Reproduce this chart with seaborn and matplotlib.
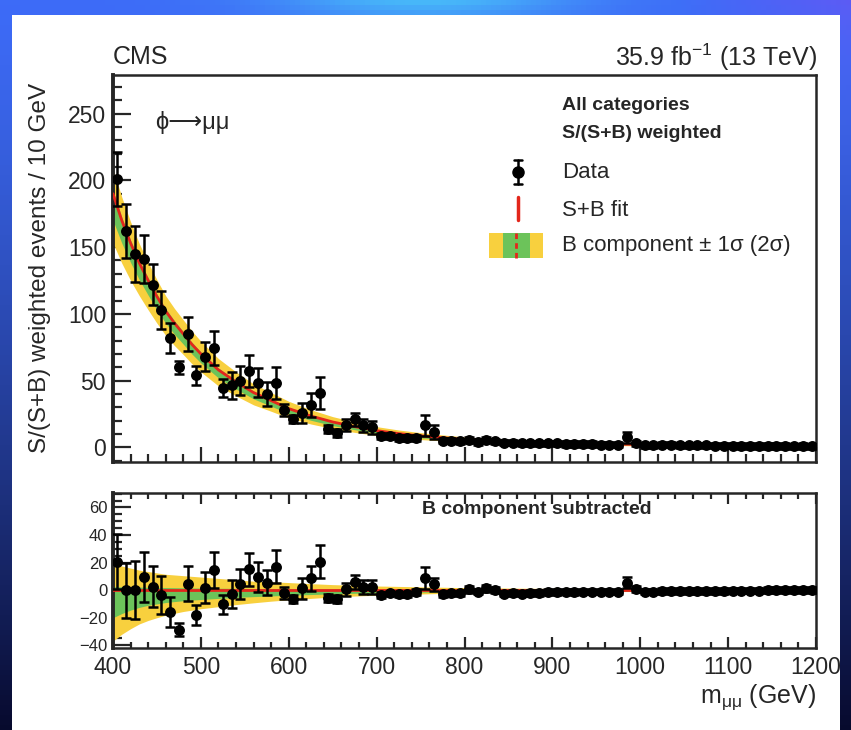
import numpy as np
import pandas as pd
import matplotlib
matplotlib.use('Agg')
import matplotlib.pyplot as plt
import matplotlib.ticker as mticker
from matplotlib.patches import Rectangle
import seaborn as sns

# ========== data ==========
# bin centres, 10 GeV bins from 400 to 1200
mass = np.arange(405, 1200, 10)

# S/(S+B) weighted events per bin (upper panel)
events = [201, 162, 145, 141, 122, 103, 82, 60, 85, 54,
          68, 74.5, 44.5, 46.5, 50, 57, 48.5, 40, 48.5, 28,
          21, 26, 31.5, 41, 14, 11, 16.5, 21, 16.5, 15,
          8.5, 8.5, 7, 7, 7, 16.5, 11.5, 5, 5, 4.5,
          5.5, 4, 5.5, 4.5, 3.5, 3.5, 3, 3, 3, 3,
          3, 2.5, 2.5, 2.5, 2.5, 2, 2, 2, 7.5, 3,
          1.5, 1.5, 2, 2, 1.5, 1.5, 1.5, 1.5, 1.2, 1.2,
          1.2, 1, 1, 1, 1, 1, 1, 0.8, 1, 0.8]

# B component subtracted (lower panel)
residual = [20.6, 0, 0, 9.7, 2.4, -3.6, -15.8, -28.6, 4.8, -18,
            1.9, 14.5, -10.4, -2.9, 4.4, 15, 9.7, 5.3, 17, -1.9,
            -6.5, 1.2, 8.5, 20.6, -5.6, -6.5, 0.5, 5.8, 2.4, 2.4,
            -3.6, -2.4, -3, -3, -1.2, 9, 4.1, -3, -2.4, -2.4,
            0.5, -1, 1.5, 0, -2.5, -2, -2.5, -2, -2, -1.5,
            -1.5, -1, -1.5, -1, -1, -1, -1, -1, 5.5, 1,
            -1, -1, -0.5, -0.5, -0.5, -0.5, -0.5, -0.5, -0.5, -0.5,
            -0.3, -0.3, -0.3, -0.3, 0, 0, 0, 0, 0, 0]

# statistical error per bin (same for both panels)
err = [20, 20, 21, 18, 15, 14, 11, 5, 13, 7,
       11, 13, 7, 10, 11, 12, 11, 9, 12, 4.5,
       3, 7.5, 9, 12, 3, 3, 4.5, 5, 5, 5,
       2, 2, 2, 2, 2, 8, 5, 2, 2, 2,
       2.5, 2, 2.5, 2, 2, 2, 2, 2, 2, 2,
       2, 2, 2, 2, 2, 2, 2, 2, 4, 2,
       2, 2, 2, 2, 2, 2, 2, 2, 2, 2,
       2, 2, 2, 2, 2, 2, 2, 2, 2, 2]

# background fit and its 1 sigma / 2 sigma band (offsets w.r.t. the fit)
fit_x = [400, 410, 420, 430, 440, 450, 460, 470, 480, 490, 500, 520, 540, 560, 580, 600,
         625, 650, 675, 700, 725, 750, 775, 800, 850, 900, 950, 1000, 1050, 1100, 1150, 1200]
fit_b = [190, 170, 153, 138, 125, 113, 102, 93, 85, 77, 70, 58, 49, 41, 35, 29,
         23.5, 19, 15.5, 12.5, 10.3, 8.6, 7.2, 6.0, 4.4, 3.3, 2.6, 2.1, 1.8, 1.5, 1.3, 1.1]
yel_up = [19, 17.5, 16, 14.5, 13.5, 12.5, 11.5, 11, 10.5, 10, 9.5, 8.5, 7.5, 6.5, 6, 5.5,
          4.7, 4, 3.5, 3, 2.7, 2.4, 2.1, 1.8, 1.5, 1.2, 1.1, 1, 0.9, 0.8, 0.7, 0.6]
grn_up = [2.5, 2.4, 2.3, 2.2, 2.1, 2, 1.9, 1.8, 1.7, 1.6, 1.5, 1.4, 1.3, 1.2, 1.1, 1,
          0.9, 0.8, 0.7, 0.6, 0.55, 0.5, 0.45, 0.4, 0.35, 0.3, 0.3, 0.25, 0.25, 0.2, 0.2, 0.2]
grn_dn = [-20, -17, -14.5, -12.5, -11, -10, -9, -8.3, -7.7, -7.2, -6.8, -6, -5.3, -4.7, -4.2, -3.7,
          -3.2, -2.7, -2.3, -2, -1.7, -1.5, -1.3, -1.1, -0.9, -0.7, -0.6, -0.5, -0.45, -0.4, -0.35, -0.3]
yel_dn = [-37, -32, -28, -24.5, -22, -20, -18.2, -16.8, -15.5, -14.5, -13.5, -12, -10.5, -9.2, -8, -7,
          -6, -5, -4.3, -3.7, -3.2, -2.8, -2.4, -2, -1.6, -1.3, -1.1, -1, -0.9, -0.8, -0.7, -0.6]
# S+B fit minus B component
sb_sub = [0.0] * len(fit_x)

data_df = pd.DataFrame({'mass': mass, 'events': events, 'residual': residual, 'err': err})
fit_df = pd.DataFrame({'x': fit_x, 'b': fit_b, 'sb': sb_sub})
fx = np.array(fit_x, dtype=float)
fb = np.array(fit_b, dtype=float)

# ========== style ==========
sns.set_style("ticks")
plt.rcParams['font.family'] = ['Liberation Sans', 'DejaVu Sans']
plt.rcParams['mathtext.fontset'] = 'custom'
plt.rcParams['mathtext.rm'] = 'Liberation Sans'
plt.rcParams['mathtext.it'] = 'Liberation Sans'

YELLOW = '#f8d03e'
GREEN = '#6cc35a'
RED = '#e3261b'

W, H = 851, 730
fig = plt.figure(figsize=(W / 100, H / 100), dpi=100)

# blue slide background with white panel
bg = fig.add_axes([0, 0, 1, 1], zorder=-10)
gy, gx = np.mgrid[0:1:146j, 0:1:170j]
top = np.array([0.24, 0.42, 0.97])
bot = np.array([0.03, 0.04, 0.18])
t = (gy ** 1.3)[..., None]
img = top * (1 - t) + bot * t
glow = (np.exp(-((gx - 0.5) / 0.18) ** 2) * np.exp(-gy / 0.04))[..., None]
img = img * (1 - glow) + np.array([0.28, 0.72, 0.98]) * glow
right = (np.clip((gx - 0.8) / 0.2, 0, 1) * np.exp(-gy / 0.08))[..., None]
img = img * (1 - right) + np.array([0.36, 0.36, 0.96]) * right
bg.imshow(img, aspect='auto', extent=[0, 1, 0, 1], origin='upper')
bg.add_patch(Rectangle((12 / W, 0), (840 - 12) / W, 1 - 15 / H, color='white', lw=0))
bg.set_xlim(0, 1)
bg.set_ylim(0, 1)
bg.axis('off')


def px(x0, y0, x1, y1):
    return [x0 / W, 1 - y1 / H, (x1 - x0) / W, (y1 - y0) / H]


ax = fig.add_axes(px(113, 75, 816, 462))
axr = fig.add_axes(px(113, 493, 816, 648))

# ---------- upper panel ----------
ax.fill_between(fx, fb + np.array(yel_dn), fb + np.array(yel_up), color=YELLOW, lw=0, zorder=1)
ax.fill_between(fx, fb + np.array(grn_dn), fb + np.array(grn_up), color=GREEN, lw=0, zorder=2)
sns.lineplot(data=fit_df, x='x', y='b', ax=ax, color=RED, lw=2, zorder=3)
ax.errorbar(data_df['mass'], data_df['events'], yerr=data_df['err'], fmt='none',
            ecolor='black', elinewidth=1.8, capsize=3.5, capthick=1.8, zorder=4)
sns.scatterplot(data=data_df, x='mass', y='events', ax=ax, color='black', s=62,
                edgecolor='black', linewidth=0, zorder=5)

ax.set_xlim(400, 1200)
ax.set_ylim(-11, 279)
ax.yaxis.set_major_locator(mticker.MultipleLocator(50))
ax.yaxis.set_minor_locator(mticker.MultipleLocator(10))
ax.xaxis.set_major_locator(mticker.MultipleLocator(100))
ax.xaxis.set_minor_locator(mticker.MultipleLocator(20))
ax.tick_params(axis='both', which='both', direction='in', labelsize=16.5, width=1.6, pad=5)
ax.tick_params(axis='y', which='major', length=13)
ax.tick_params(axis='y', which='minor', length=6.5)
ax.tick_params(axis='x', which='major', length=11, labelbottom=False)
ax.tick_params(axis='x', which='minor', length=5.5)
ax.set_xlabel('')
ax.set_ylabel('')
for s in ax.spines.values():
    s.set_linewidth(1.8)
ax.spines['left'].set_linewidth(2.8)

# ---------- lower panel ----------
axr.fill_between(fx, yel_dn, yel_up, color=YELLOW, lw=0, zorder=1)
axr.fill_between(fx, grn_dn, grn_up, color=GREEN, lw=0, zorder=2)
sns.lineplot(data=fit_df, x='x', y='sb', ax=axr, color=RED, lw=2, zorder=3)
axr.errorbar(data_df['mass'], data_df['residual'], yerr=data_df['err'], fmt='none',
             ecolor='black', elinewidth=1.8, capsize=3.5, capthick=1.8, zorder=4)
sns.scatterplot(data=data_df, x='mass', y='residual', ax=axr, color='black', s=62,
                edgecolor='black', linewidth=0, zorder=5)

axr.set_xlim(400, 1200)
axr.set_ylim(-42, 70.5)
axr.yaxis.set_major_locator(mticker.MultipleLocator(20))
axr.yaxis.set_minor_locator(mticker.MultipleLocator(5))
axr.xaxis.set_major_locator(mticker.MultipleLocator(100))
axr.xaxis.set_minor_locator(mticker.MultipleLocator(20))
axr.tick_params(axis='both', which='both', direction='in', width=1.6, top=True)
axr.tick_params(axis='y', which='major', length=13, labelsize=12, pad=4)
axr.tick_params(axis='y', which='minor', length=6.5)
axr.tick_params(axis='x', which='major', length=8, labelsize=16.5, pad=6)
axr.tick_params(axis='x', which='minor', length=4)
axr.set_xlabel('')
axr.set_ylabel('')
for s in axr.spines.values():
    s.set_linewidth(1.8)
axr.spines['left'].set_linewidth(2.8)

# ---------- texts ----------
def ftext(x, y, s, **kw):
    fig.text(x / W, 1 - y / H, s, **kw)

ftext(113, 57, 'CMS', fontsize=18, ha='left', va='center')
ftext(817, 57, r'35.9 fb$^{-1}$ (13 TeV)', fontsize=18, ha='right', va='center')
ftext(155, 122, 'ϕ⟶μμ', fontsize=17, ha='left', va='center',
      family=['Liberation Sans', 'DejaVu Sans'])
ftext(40, 268, 'S/(S+B) weighted events / 10 GeV', fontsize=17.5, rotation=90,
      ha='center', va='center')
ftext(816, 697, r'm$_{\mu\mu}$ (GeV)', fontsize=18, ha='right', va='center')
ftext(537, 510, 'B component subtracted', fontsize=14, fontweight='bold',
      ha='center', va='center')

# legend drawn by hand in axes fraction
def a(xp, yp):
    return ((xp - 113) / 703, (462 - yp) / 387)

tr = ax.transAxes
ax.text(*a(562, 105), 'All categories', transform=tr, fontsize=14, fontweight='bold', va='center')
ax.text(*a(562, 133), 'S/(S+B) weighted', transform=tr, fontsize=14, fontweight='bold', va='center')
ax.text(*a(562, 172), 'Data', transform=tr, fontsize=16, va='center')
ax.text(*a(562, 210), 'S+B fit', transform=tr, fontsize=16, va='center')
ax.text(*a(562, 246), 'B component ± 1σ (2σ)', transform=tr, fontsize=16, va='center')

x0, y0 = a(517.5, 160)
_, y1 = a(517.5, 184)
ax.plot([x0, x0], [y0, y1], color='black', lw=1.8, transform=tr, clip_on=False)
cw = 4 / 703
for yy in (y0, y1):
    ax.plot([x0 - cw, x0 + cw], [yy, yy], color='black', lw=1.8, transform=tr, clip_on=False)
ax.plot([x0], [a(517.5, 172)[1]], 'o', color='black', ms=8, transform=tr, clip_on=False)

_, r0 = a(517.5, 197)
_, r1 = a(517.5, 220)
ax.plot([x0, x0], [r0, r1], color=RED, lw=2.5, transform=tr, clip_on=False)

bx0, by0 = a(489, 258)
bx1, by1 = a(543, 233)
ax.add_patch(Rectangle((bx0, by0), bx1 - bx0, by1 - by0, transform=tr, color=YELLOW, lw=0))
gx0, _ = a(503, 0)
gx1, _ = a(530, 0)
ax.add_patch(Rectangle((gx0, by0), gx1 - gx0, by1 - by0, transform=tr, color=GREEN, lw=0))
dx, _ = a(516, 0)
ax.plot([dx, dx], [by0, by1], color=RED, lw=2, ls=(0, (2, 1.5)), transform=tr, clip_on=False)

fig.savefig('out.png', dpi=100)
